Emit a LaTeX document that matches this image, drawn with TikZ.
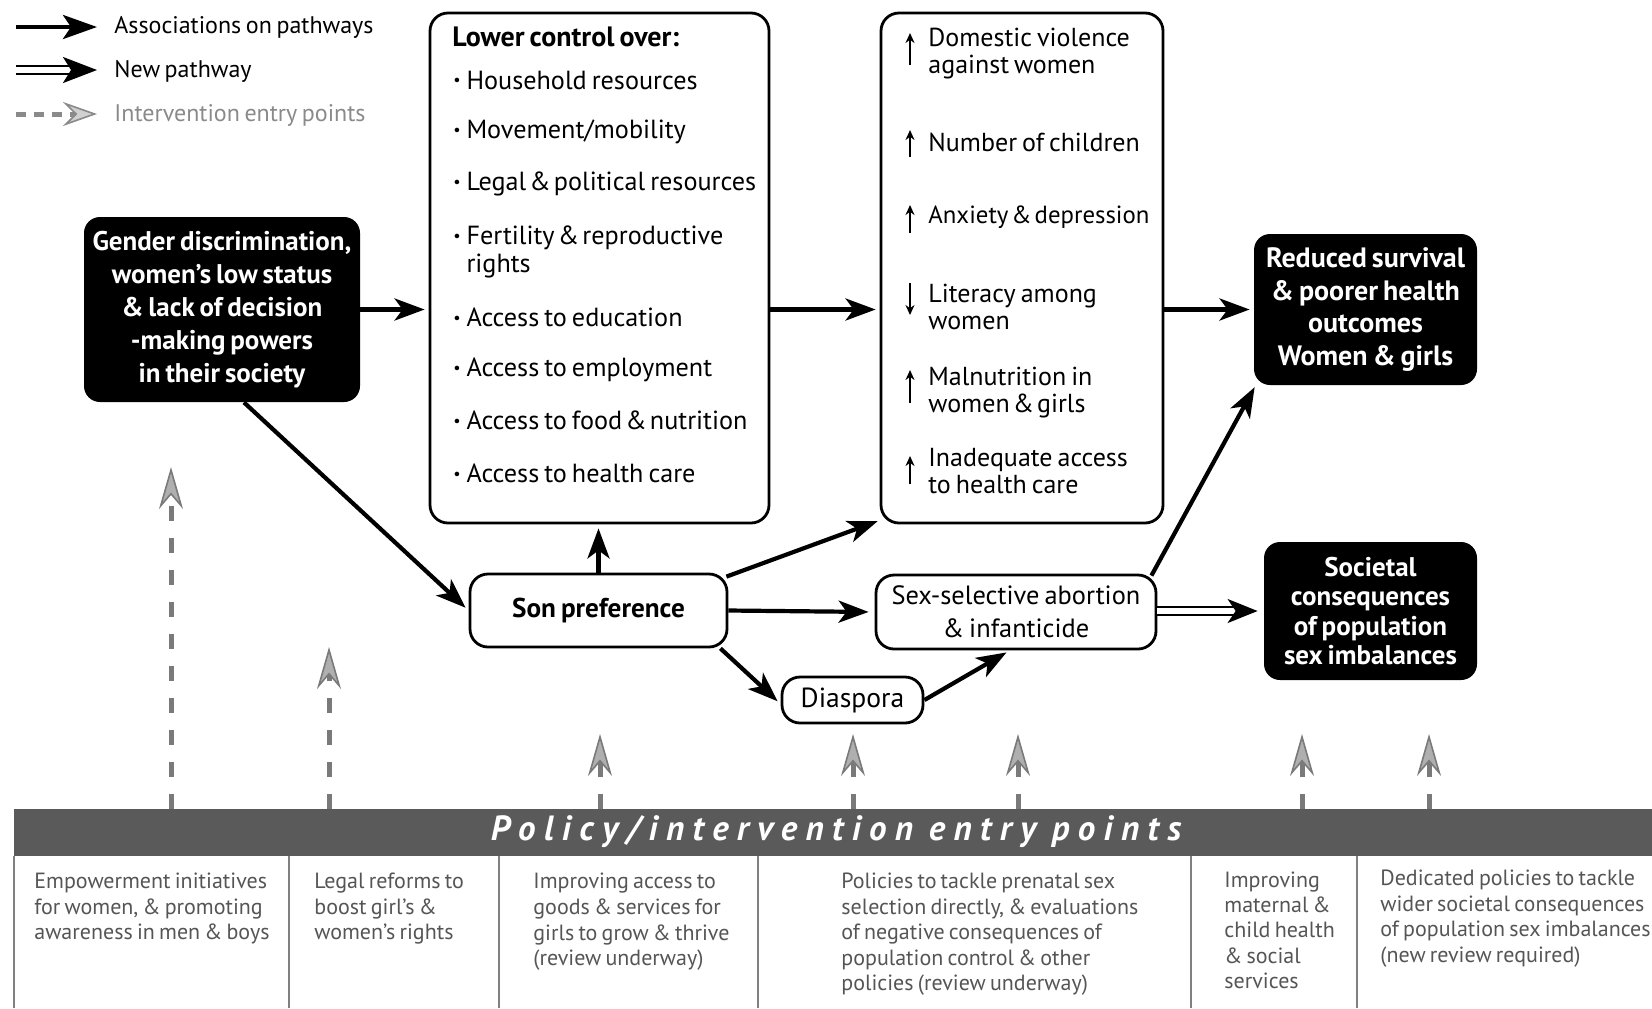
\documentclass[tikz,border=0pt]{standalone}
\usepackage{fontspec}
\usepackage{graphicx}
\setmainfont{PT Sans}[WordSpace=0.72]
\usetikzlibrary{arrows.meta}
\definecolor{bargray}{HTML}{5A5A5A}
\definecolor{intgray}{HTML}{7A7A7A}
\definecolor{legray}{HTML}{8A8A8A}
\definecolor{celltext}{HTML}{555555}
\definecolor{cellline}{HTML}{808080}
\newcommand{\am}{\kern-0.07em\&\kern-0.07em}
\newcommand{\bul}{\raisebox{0.12em}{\scalebox{0.62}{\textbullet}}\kern0.22em}
\begin{document}
\begin{tikzpicture}[x=0.5pt,y=-0.5pt,
  blackbox/.style={fill=black, text=white, rounded corners=8pt, font=\fontsize{13.5}{16.5}\selectfont\bfseries, align=center, inner sep=0pt},
  whitebox/.style={draw=black, line width=1.4pt, rounded corners=9pt, fill=white, inner sep=0pt, align=center},
  itemtext/.style={anchor=west, font=\fontsize{13.1}{14}\selectfont, align=left, inner sep=0pt},
  coltext/.style={anchor=west, font=\fontsize{13}{13.5}\selectfont, align=left, inner sep=0pt},
  legtext/.style={anchor=west, font=\fontsize{12}{13}\selectfont, inner sep=0pt},
  assoc/.style={line width=2.1pt, -{Stealth[length=15pt,width=11pt,inset=4pt]}},
  newpath/.style={line width=1.2pt, double=white, double distance=2.6pt, -{Stealth[length=15pt,width=12pt,inset=4pt]}},
  entry/.style={draw=intgray, line width=2.5pt, dash pattern=on 7.5pt off 8.5pt, -{Stealth[length=21pt,width=12pt,inset=7pt,line width=0.8pt,fill=intgray!60]}},
  smallarr/.style={line width=1.1pt, -{Stealth[length=5pt,width=4.5pt]}},
  celltxt/.style={anchor=north west, align=left, text=celltext, font=\fontsize{11}{12.75}\selectfont, inner sep=0pt},
]
\useasboundingbox (0,0) rectangle (1652,1008);

% ---------- legend ----------
\coordinate (la1) at (16,27);  \coordinate (lb1) at (97,27);
\coordinate (la2) at (16,70);  \coordinate (lb2) at (97,70);
\coordinate (la3) at (16,114); \coordinate (lb3) at (97,114);
\draw[line width=2.2pt, -{Stealth[length=17pt,width=12pt,inset=4pt]}] (la1) -- (lb1);
\draw[line width=1.2pt, double=white, double distance=2.6pt, -{Stealth[length=17pt,width=13pt,inset=4pt]}] (la2) -- (lb2);
\draw[draw=legray, line width=2.5pt, dash pattern=on 5pt off 4pt, -{Stealth[length=17pt,width=12pt,inset=6pt,line width=0.8pt,fill=legray!40]}] (la3) -- (lb3);
\node[legtext] (lt1) at (114,27) {Associations on pathways};
\node[legtext] (lt2) at (114,71) {New pathway};
\node[legtext, text=legray] (lt3) at (114,115) {Intervention entry points};

% ---------- main boxes ----------
\node[blackbox, minimum width=138pt, minimum height=92.5pt] (gender) at (222,309.5)
  {Gender discrimination,\\women’s low status\\\& lack of decision\\-making powers\\in their society};

\node[whitebox, minimum width=169.5pt, minimum height=255pt] (lower) at (599.5,268) {};
\node[whitebox, minimum width=141pt, minimum height=255pt] (rcol) at (1022,268) {};

\node[blackbox, minimum width=111.5pt, minimum height=75.5pt, font=\fontsize{14}{16.3}\selectfont\bfseries] (red) at (1365.5,309.5)
  {Reduced survival\\\& poorer health\\outcomes\\Women \& girls};
\node[blackbox, minimum width=106.5pt, minimum height=69pt, font=\fontsize{13.5}{14.7}\selectfont\bfseries] (soc) at (1370.5,611)
  {Societal\\consequences\\of population\\sex imbalances};

\node[whitebox, minimum width=128.5pt, minimum height=36.5pt, font=\fontsize{13.6}{15}\selectfont\bfseries] (son) at (598.5,610.5) {Son preference};
\node[whitebox, minimum width=140pt, minimum height=37pt, font=\fontsize{13.2}{16.3}\selectfont] (ssa) at (1016,612) {Sex-selective abortion\\\& infanticide};
\node[whitebox, minimum width=70.5pt, minimum height=23pt, font=\fontsize{13.8}{15}\selectfont] (dia) at (852.5,700) {Diaspora};

% ---------- lower control items ----------
\node[itemtext, font=\fontsize{14}{14}\selectfont\bfseries] (lhead) at (452,37) {Lower control over:};
\node[itemtext] (l1) at (453,80)  {\bul Household resources};
\node[itemtext] (l2) at (453,132) {\bul Movement/mobility};
\node[itemtext] (l3) at (453,184) {\bul Legal \am{} political resources};
\node[itemtext] (l4) at (453,252) {\bul Fertility \am{} reproductive\\\hphantom{\bul}rights};
\node[itemtext] (l5) at (453,317) {\bul Access to education};
\node[itemtext] (l6) at (453,370) {\bul Access to employment};
\node[itemtext] (l7) at (453,420) {\bul Access to food \am{} nutrition};
\node[itemtext] (l8) at (453,473) {\bul Access to health care};

% ---------- right column items ----------
\node[coltext] (r1) at (928,53.5) {Domestic violence\\against women};
\node[coltext] (r2) at (928,142)  {Number of children};
\node[coltext, font=\fontsize{12.4}{13.5}\selectfont] (r3) at (928,217)  {Anxiety \am{} depression};
\node[coltext] (r4) at (928,307)  {Literacy among\\women};
\node[coltext] (r5) at (928,393)  {Malnutrition in\\women \am{} girls};
\node[coltext] (r6) at (928,471)  {Inadequate access\\to health care};
\draw[smallarr] (910,65) -- (910,33);
\draw[smallarr] (910,157) -- (910,130);
\draw[smallarr] (910,233) -- (910,205);
\draw[smallarr] (910,283) -- (910,315);
\draw[smallarr] (910,403) -- (910,370);
\draw[smallarr] (910,484) -- (910,456);

% ---------- pathway connectors ----------
\draw[assoc, shorten >=2pt] (gender.east) -- (gender.east -| lower.west);
\draw[assoc, shorten >=2pt] (lower.east |- gender.east) -- (rcol.west |- gender.east);
\draw[assoc, shorten >=2pt] (rcol.east |- red.west) -- (red.west);
\draw[assoc, shorten >=2pt] ([xshift=11pt]gender.south) -- (son.west);
\draw[assoc, shorten >=2pt] (son.north) -- (son.north |- lower.south);
\draw[assoc, shorten >=1pt] ([xshift=-1pt,yshift=-2pt]son.north east) -- ([yshift=2pt]rcol.south west);
\draw[assoc, shorten >=3pt] (son.east) -- (ssa.west);
\draw[assoc, shorten >=2pt] ([xshift=-4pt]son.south east) -- ([yshift=-2pt]dia.west);
\draw[assoc, shorten >=2pt] (dia.east) -- ([xshift=-3pt]ssa.south);
\draw[assoc, shorten >=1pt] ([xshift=-3pt,yshift=-1pt]ssa.north east) -- ([xshift=1pt]red.south west);
\draw[newpath, shorten >=3pt] (ssa.east |- soc.west) -- (soc.west);

% ---------- policy bar ----------
\node[fill=bargray, minimum width=819pt, minimum height=23.5pt, anchor=north west, inner sep=0pt] (bar) at (14,809) {};
\node[text=white, inner sep=0pt, font=\fontsize{17.5}{19}\selectfont\bfseries\itshape\addfontfeature{LetterSpace=24}] (bartext) at (836,832) {Policy/intervention\hspace{0.45em}entry\hspace{0.45em}points};

% ---------- intervention entry points ----------
\coordinate (i1) at (171,467);
\coordinate (i2) at (329,647);
\coordinate (i3) at (600,734);
\coordinate (i4) at (853,734);
\coordinate (i5) at (1018,734);
\coordinate (i6) at (1302,734);
\coordinate (i7) at (1429,734);
\foreach \i in {1,...,7}{
  \draw[entry] (bar.north -| i\i) -- (i\i);
}

% ---------- cells ----------
\foreach \x in {14,289,499,758,1191,1357}{
  \draw[cellline, line width=0.9pt] (\x,856) -- (\x,1008);
}
\node[celltxt] (c1) at (34,873) {Empowerment initiatives\\for women, \& promoting\\awareness in men \& boys};
\node[celltxt] (c2) at (314,873) {Legal reforms to\\boost girl’s \&\\women’s rights};
\node[celltxt] (c3) at (533,873) {Improving access to\\goods \& services for\\girls to grow \& thrive\\(review underway)};
\node[celltxt] (c4) at (841,873) {Policies to tackle prenatal sex\\selection directly, \& evaluations\\of negative consequences of\\population control \& other\\policies (review underway)};
\node[celltxt] (c5) at (1224,871) {Improving\\maternal \&\\child health\\\& social\\services};
\node[celltxt] (c6) at (1380,870) {Dedicated policies to tackle\\wider societal consequences\\of population sex imbalances\\(new review required)};
\end{tikzpicture}
\end{document}
